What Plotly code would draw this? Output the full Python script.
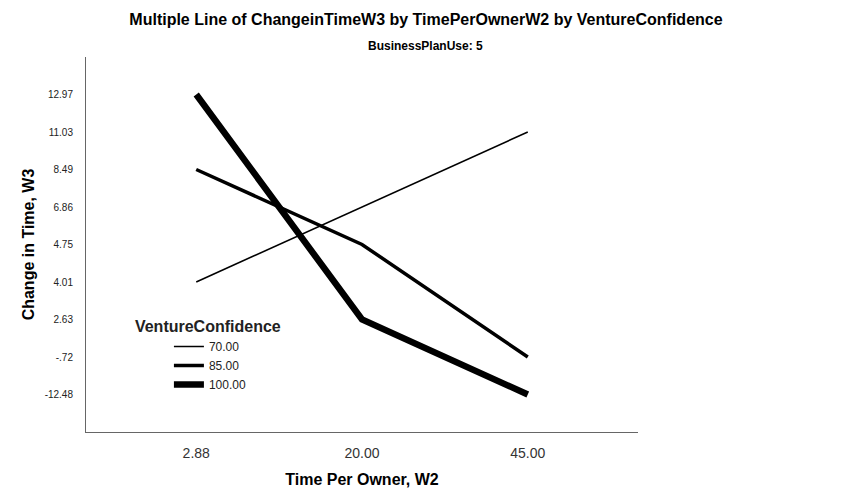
import plotly.graph_objects as go

# x categories (Time Per Owner, W2)
time_per_owner = ["2.88", "20.00", "45.00"]
# y categories in axis order, bottom to top (Change in Time, W3)
change_levels = ["-12.48", "-.72", "2.63", "4.01", "4.75", "6.86", "8.49", "11.03", "12.97"]

conf_70 = ["4.01", "6.86", "11.03"]
conf_85 = ["8.49", "4.75", "-.72"]
conf_100 = ["12.97", "2.63", "-12.48"]

series = [("70.00", conf_70, 1.6), ("85.00", conf_85, 3.5), ("100.00", conf_100, 6.5)]

fig = go.Figure()
for name, vals, w in series:
    fig.add_trace(go.Scatter(
        x=time_per_owner, y=vals, name=name, mode="lines",
        line=dict(color="black", width=w),
    ))

# page body adds an 8px offset, margins account for it
fig.update_layout(
    width=853, height=503,
    margin=dict(l=78, r=223, t=49, b=79),
    paper_bgcolor="white", plot_bgcolor="white",
    font=dict(family="Liberation Sans, Arial", color="black"),
    title=dict(
        text="<b>Multiple Line of ChangeinTimeW3 by TimePerOwnerW2 by VentureConfidence</b>",
        x=0.49, xanchor="center", y=0.977, yanchor="middle",
        font=dict(size=16),
    ),
    legend=dict(
        title=dict(text="<b>VentureConfidence</b>", font=dict(size=16), side="top"),
        x=0.085, xanchor="left", y=0.322, yanchor="top",
        font=dict(size=12, color="#222"),
        itemwidth=30, indentation=36, tracegroupgap=0,
        bgcolor="rgba(0,0,0,0)",
    ),
    annotations=[dict(
        text="<b>BusinessPlanUse: 5</b>", xref="paper", yref="paper",
        x=0.5, y=1.0, xanchor="center", yanchor="middle", showarrow=False,
        font=dict(size=12), yshift=11, xshift=63,
    )],
)

fig.update_xaxes(
    type="category", categoryorder="array", categoryarray=time_per_owner,
    range=[-0.665, 2.665], showgrid=False, zeroline=False, automargin=False,
    showline=True, linecolor="#666", linewidth=1, ticks="",
    tickfont=dict(size=14, color="#333"), ticklabelstandoff=8,
    title=dict(text="<b>Time Per Owner, W2</b>", font=dict(size=16), standoff=14),
)
fig.update_yaxes(
    type="category", categoryorder="array", categoryarray=change_levels,
    range=[-1, 9], showgrid=False, zeroline=False, automargin=False,
    showline=True, linecolor="#666", linewidth=1, ticks="",
    tickfont=dict(size=10, color="#222"), ticklabelstandoff=10,
    title=dict(text="<b>Change in Time, W3</b>", font=dict(size=16), standoff=6),
)

fig.write_html("out.html")
